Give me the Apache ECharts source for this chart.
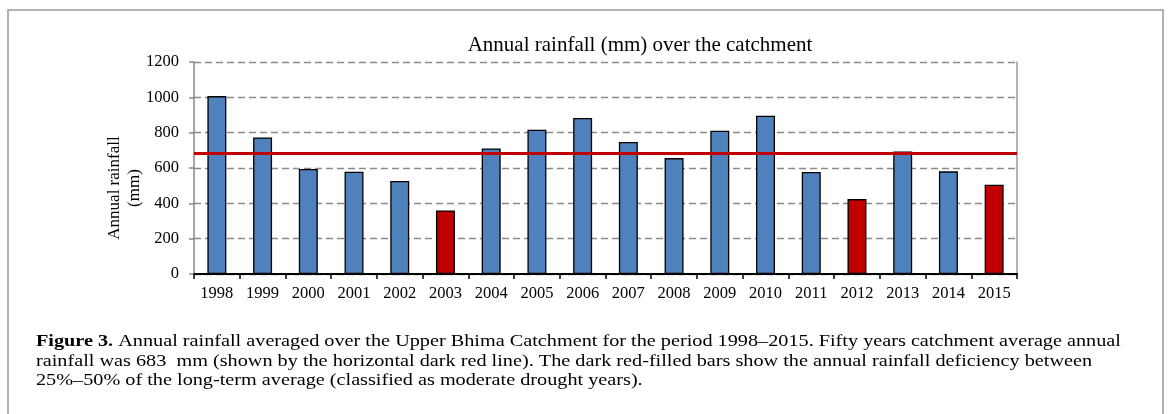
<!DOCTYPE html>
<html>
<head>
<meta charset="utf-8">
<script src="https://cdn.jsdelivr.net/npm/echarts@6/dist/echarts.min.js"></script>
<style>
  html, body { margin: 0; padding: 0; background: #fff; }
  #chart { width: 1172px; height: 414px; }
</style>
</head>
<body>
<div id="chart"></div>
<script>
// Annual rainfall over the Upper Bhima catchment
const years = ['1998', '1999', '2000', '2001', '2002', '2003', '2004', '2005', '2006',
               '2007', '2008', '2009', '2010', '2011', '2012', '2013', '2014', '2015'];
const rainfall = [1007, 773, 594, 579, 526, 360, 711, 817, 883,
                  747, 656, 811, 896, 577, 424, 694, 581, 505];
const droughtYears = ['2003', '2012', '2015'];
const longTermAverage = 683;
const yTicks = [0, 200, 400, 600, 800, 1000, 1200];

const BLUE = '#4F81BD';
const DARK_RED = '#C00000';
const FONT = '"Liberation Serif", "DejaVu Serif", serif';

// caption text is condensed in the original, so stretch a smaller font sideways
function captionLine(y, text, rich) {
    return {
        type: 'text',
        x: 36, y: y,
        scaleX: 1.19,
        style: {
            text: text,
            rich: rich,
            font: '17px ' + FONT,
            fill: '#000',
            verticalAlign: 'middle'
        }
    };
}

const chart = echarts.init(document.getElementById('chart'));

const option = {
    backgroundColor: '#fff',
    animation: false,
    grid: { left: 194, right: 155, top: 62, bottom: 140 },
    xAxis: {
        type: 'category',
        data: years,
        axisLine: { lineStyle: { color: '#000', width: 2 } },
        axisTick: { show: true, length: 5, lineStyle: { color: '#000', width: 1.5 } },
        axisLabel: { color: '#000', fontFamily: FONT, fontSize: 16.5, margin: 11 },
        splitLine: { show: false }
    },
    yAxis: [{
        type: 'value',
        min: yTicks[0],
        max: yTicks[yTicks.length - 1],
        interval: 200,
        axisLine: { show: true, lineStyle: { color: '#888', width: 1.5 } },
        axisTick: { show: true, length: 5, lineStyle: { color: '#888', width: 1.5 } },
        axisLabel: {
            color: '#000', fontFamily: FONT, fontSize: 16.5, margin: 15,
            formatter: v => String(v)
        },
        splitLine: { show: true, lineStyle: { color: '#8a8a8a', width: 1.3, type: [7, 4] } }
    }, {
        type: 'value',
        position: 'right',
        min: yTicks[0],
        max: yTicks[yTicks.length - 1],
        interval: 200,
        axisLine: { show: true, lineStyle: { color: '#999', width: 1.5 } },
        axisTick: { show: false },
        axisLabel: { show: false },
        splitLine: { show: false }
    }],
    series: [{
        type: 'bar',
        barWidth: '41.5%',
        data: rainfall.map((v, i) => ({
            value: v,
            itemStyle: { color: droughtYears.includes(years[i]) ? DARK_RED : BLUE }
        })),
        itemStyle: { borderColor: '#000', borderWidth: 1.3 },
        markLine: {
            silent: true,
            symbol: 'none',
            label: { show: false },
            lineStyle: { color: DARK_RED, width: 3, type: 'solid' },
            data: [{ yAxis: longTermAverage }]
        }
    }],
    graphic: [
        {
            type: 'rect',
            shape: { x: 8, y: 10, width: 1155, height: 420 },
            style: { fill: 'none', stroke: '#9a9a9a', lineWidth: 1.5 },
            silent: true
        },
        {
            type: 'text',
            x: 640, y: 45,
            style: {
                text: 'Annual rainfall (mm) over the catchment',
                font: '21px ' + FONT,
                fill: '#000',
                textAlign: 'center',
                textVerticalAlign: 'middle'
            }
        },
        {
            type: 'text',
            x: 125, y: 188,
            rotation: Math.PI / 2,
            style: {
                text: 'Annual rainfall\n(mm)',
                font: '17px ' + FONT,
                lineHeight: 20,
                fill: '#000',
                align: 'center',
                verticalAlign: 'middle'
            }
        },
        captionLine(342,
            '{b|Figure 3.} Annual rainfall averaged over the Upper Bhima Catchment for the period 1998–2015. Fifty years catchment average annual',
            { b: { font: 'bold 17px ' + FONT, fill: '#000' } }),
        captionLine(362,
            'rainfall was 683  mm (shown by the horizontal dark red line). The dark red-filled bars show the annual rainfall deficiency between'),
        captionLine(381,
            '25%–50% of the long-term average (classified as moderate drought years).')
    ]
};

chart.setOption(option);
</script>
</body>
</html>
